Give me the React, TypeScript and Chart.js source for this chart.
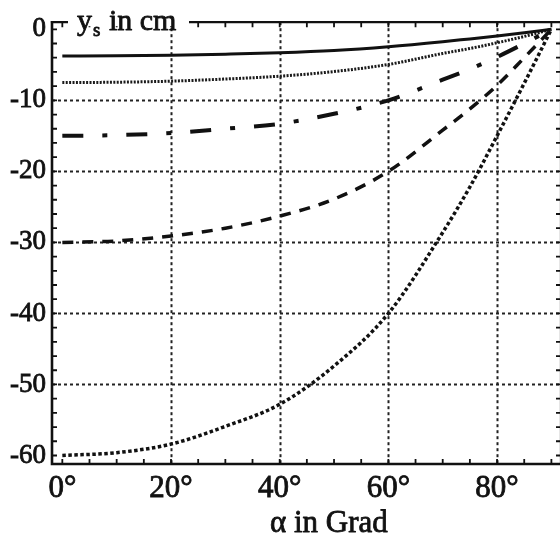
import React, { useEffect, useRef } from "react";
import { Chart, registerables } from "chart.js";

Chart.register(...registerables);

// ---- data ----
const angles = [0, 10, 20, 30, 40, 50, 60, 70, 75, 80, 85, 90];
const ys60 = [-60, -59.6, -58.4, -55.9, -52.8, -47.4, -40, -28.6, -22.2, -15.0, -7.6, 0];
const ys30 = [-30, -29.8, -29.1, -28.0, -26.3, -23.9, -20, -14.2, -11.2, -7.9, -4.0, 0];
const ys15 = [-15, -14.9, -14.6, -14.0, -13.3, -11.9, -10.0, -7.1, -5.6, -3.9, -2.0, 0];
const ys7_5 = [-7.5, -7.45, -7.3, -7.0, -6.6, -5.95, -4.95, -3.4, -2.7, -1.9, -1.0, 0];
const ys3_75 = [-3.75, -3.73, -3.65, -3.5, -3.3, -2.98, -2.45, -1.75, -1.35, -0.95, -0.5, 0];

const xTickValues = [0, 20, 40, 60, 80];
const xTickLabels = ["0°", "20°", "40°", "60°", "80°"];
const yTickValues = [0, -10, -20, -30, -40, -50, -60];
const yTickLabels = ["0", "-10", "-20", "-30", "-40", "-50", "-60"];
const xGridValues = [20, 40, 60, 80];
const yGridValues = [-10, -20, -30, -40, -50];
const xMinorStep = 5;
const yMinorStep = 2;

const yTitleMain = "y";
const yTitleSub = "s";
const yTitleRest = " in cm";
const xTitle = "α in Grad";

const SERIF = '"Liberation Serif", "DejaVu Serif", serif';
const INK = "#111";
const TEXT_STROKE = 0.8;

const toPts = (vals: number[]) => angles.map((a, i) => ({ x: a, y: vals[i] }));

function heavyText(ctx: CanvasRenderingContext2D, s: string, x: number, y: number) {
  ctx.fillText(s, x, y);
  ctx.strokeText(s, x, y);
}

const framePlugin = {
  id: "framePlugin",
  beforeDatasetsDraw(chart: any) {
    const { ctx, chartArea: ca, scales } = chart;
    const xs = scales.x;
    const ys = scales.y;
    ctx.save();
    ctx.strokeStyle = "#222";
    ctx.lineWidth = 2;
    ctx.setLineDash([3, 3]);
    for (const v of xGridValues) {
      const px = Math.round(xs.getPixelForValue(v)) + 0.5;
      ctx.beginPath();
      ctx.moveTo(px, ca.top);
      ctx.lineTo(px, ca.bottom);
      ctx.stroke();
    }
    for (const v of yGridValues) {
      const py = Math.round(ys.getPixelForValue(v)) + 0.5;
      ctx.beginPath();
      ctx.moveTo(ca.left, py);
      ctx.lineTo(ca.right, py);
      ctx.stroke();
    }
    ctx.restore();
  },
  afterDatasetsDraw(chart: any) {
    const { ctx, chartArea: ca, scales } = chart;
    const xs = scales.x;
    const ys = scales.y;
    const rightX = ca.right + 2;
    ctx.save();
    ctx.setLineDash([]);
    ctx.strokeStyle = INK;
    ctx.lineCap = "square";
    // frame
    ctx.lineWidth = 2.6;
    ctx.beginPath();
    ctx.moveTo(ca.left, ca.top);
    ctx.lineTo(ca.left, ca.bottom);
    ctx.lineTo(rightX, ca.bottom);
    ctx.stroke();
    ctx.lineWidth = 2.2;
    ctx.beginPath();
    ctx.moveTo(ca.left, ca.top);
    ctx.lineTo(rightX, ca.top);
    ctx.lineTo(rightX, ca.bottom);
    ctx.stroke();
    // minor ticks
    ctx.lineWidth = 1.8;
    ctx.lineCap = "butt";
    const tl = 5;
    for (let v = 0; v <= 90; v += xMinorStep) {
      const px = xs.getPixelForValue(v);
      ctx.beginPath();
      ctx.moveTo(px, ca.bottom);
      ctx.lineTo(px, ca.bottom - tl);
      ctx.moveTo(px, ca.top);
      ctx.lineTo(px, ca.top + tl);
      ctx.stroke();
    }
    for (let v = -60; v <= 0; v += yMinorStep) {
      const py = ys.getPixelForValue(v);
      ctx.beginPath();
      ctx.moveTo(ca.left, py);
      ctx.lineTo(ca.left + tl, py);
      ctx.moveTo(rightX, py);
      ctx.lineTo(rightX - tl, py);
      ctx.stroke();
    }
    // y-axis title over the top border
    const tx = ca.left + 25;
    const base = ca.top + 8;
    ctx.fillStyle = "#fff";
    ctx.fillRect(ca.left + 16, ca.top - 14, 121, 18);
    ctx.fillStyle = INK;
    ctx.strokeStyle = INK;
    ctx.lineWidth = TEXT_STROKE;
    ctx.lineJoin = "round";
    ctx.textBaseline = "alphabetic";
    ctx.textAlign = "left";
    ctx.font = `30px ${SERIF}`;
    heavyText(ctx, yTitleMain, tx, base);
    const wy = ctx.measureText(yTitleMain).width;
    ctx.font = `19px ${SERIF}`;
    heavyText(ctx, yTitleSub, tx + wy + 1, base + 6);
    const ws = ctx.measureText(yTitleSub).width;
    ctx.font = `30px ${SERIF}`;
    heavyText(ctx, yTitleRest, tx + wy + ws + 2, base);
    // x-axis title
    ctx.font = `31px ${SERIF}`;
    heavyText(ctx, xTitle, ca.left + 218, ca.bottom + 68);
    ctx.restore();
  },
};

export default function App() {
  const ref = useRef<HTMLCanvasElement | null>(null);

  useEffect(() => {
    if (!ref.current) return;
    const common = { pointRadius: 0, fill: false, borderColor: INK, cubicInterpolationMode: "monotone" as const };
    const chart = new Chart(ref.current, {
      type: "line",
      data: {
        datasets: [
          { ...common, label: "3.75", data: toPts(ys3_75), borderWidth: 3, borderDash: [] },
          { ...common, label: "7.5", data: toPts(ys7_5), borderWidth: 3, borderDash: [2, 1.4], borderColor: "#1a1a1a" },
          { ...common, label: "15", data: toPts(ys15), borderWidth: 4, borderDash: [21, 19, 5, 19] },
          { ...common, label: "30", data: toPts(ys30), borderWidth: 3.5, borderDash: [11, 9] },
          { ...common, label: "60", data: toPts(ys60), borderWidth: 3.5, borderDash: [3.5, 2.5] },
        ],
      },
      options: {
        animation: false,
        responsive: false,
        layout: { padding: { top: 21, right: 1, left: 0, bottom: 0 } },
        plugins: { legend: { display: false }, tooltip: { enabled: false } },
        scales: {
          x: {
            type: "linear",
            min: -1.9,
            max: 91.4,
            grid: { display: false, drawTicks: false },
            border: { display: false },
            afterFit: (s: any) => {
              s.height = 76;
            },
            afterBuildTicks: (s: any) => {
              s.ticks = xTickValues.map((v) => ({ value: v }));
            },
            ticks: {
              autoSkip: false,
              maxRotation: 0,
              padding: 6,
              color: INK,
              textStrokeColor: INK,
              textStrokeWidth: TEXT_STROKE,
              font: { family: SERIF, size: 31 },
              callback: (v: any) => {
                const i = xTickValues.indexOf(Number(v));
                return i >= 0 ? xTickLabels[i] : "";
              },
            },
          },
          y: {
            type: "linear",
            min: -61.2,
            max: 1,
            grid: { display: false, drawTicks: false },
            border: { display: false },
            afterFit: (s: any) => {
              s.width = 52;
            },
            afterBuildTicks: (s: any) => {
              s.ticks = yTickValues.map((v) => ({ value: v }));
            },
            ticks: {
              autoSkip: false,
              padding: 6,
              color: INK,
              textStrokeColor: INK,
              textStrokeWidth: TEXT_STROKE,
              font: { family: SERIF, size: 27 },
              callback: (v: any) => {
                const i = yTickValues.indexOf(Number(v));
                return i >= 0 ? yTickLabels[i] : "";
              },
            },
          },
        },
      },
      plugins: [framePlugin],
    });
    return () => chart.destroy();
  }, []);

  return (
    <div style={{ position: "absolute", left: 0, top: 0, width: 560, height: 540, background: "#fff" }}>
      <canvas ref={ref} width={560} height={540} style={{ width: 560, height: 540, display: "block" }} />
    </div>
  );
}
